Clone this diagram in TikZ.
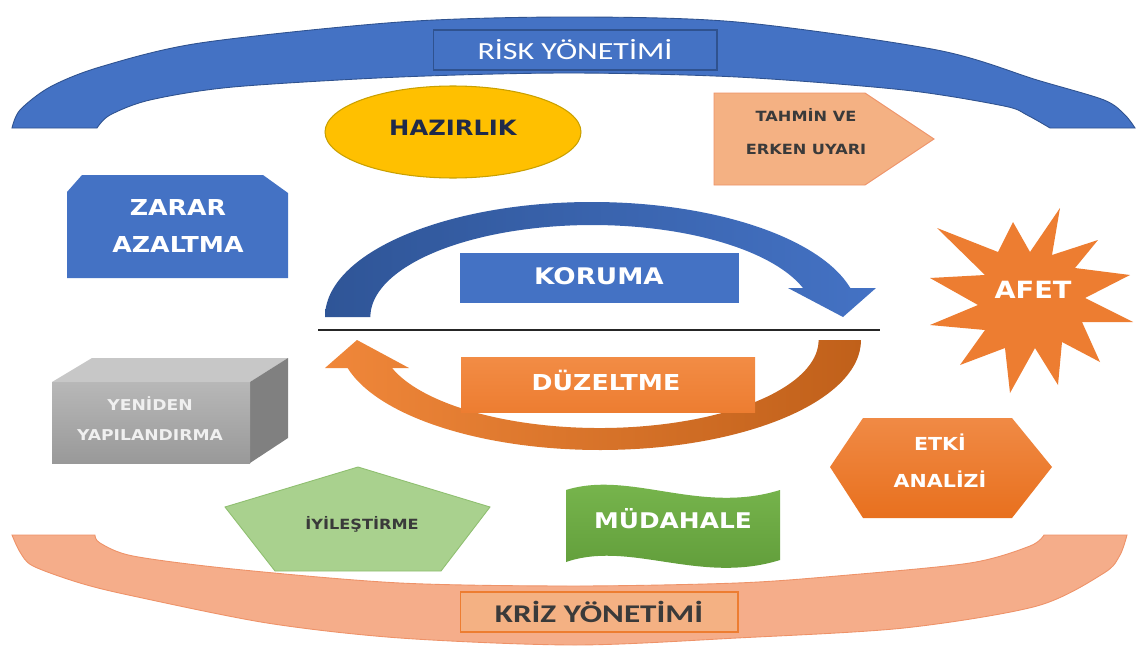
\documentclass[tikz,border=0pt]{standalone}
\usepackage{fontspec}
\newfontfamily\vfont[FakeStretch=1.15]{DejaVu Sans}
\newfontfamily\cfont[FakeStretch=1.3]{Carlito}
\usetikzlibrary{shapes.geometric}
\definecolor{oblue}{HTML}{4472C4}
\definecolor{dblue}{HTML}{2F5597}
\definecolor{borderblue}{HTML}{2F528F}
\definecolor{oorange}{HTML}{ED7D31}
\definecolor{lorange}{HTML}{F4B183}
\definecolor{band}{HTML}{F5AD8A}
\definecolor{bandedge}{HTML}{EE9268}
\definecolor{gold}{HTML}{FFC000}
\definecolor{golddark}{HTML}{C9A000}
\definecolor{lgreen}{HTML}{A9D18E}
\definecolor{lgreenedge}{HTML}{8FBF70}
\definecolor{green}{HTML}{70AD47}
\definecolor{navy}{HTML}{1F2A4A}
\definecolor{darktext}{HTML}{3A3A3A}
\definecolor{arcL}{HTML}{F0873A}
\definecolor{arcR}{HTML}{C0601A}
\definecolor{duzT}{HTML}{F28C45}
\definecolor{hexT}{HTML}{F08A45}
\definecolor{hexB}{HTML}{E8701E}
\definecolor{mudT}{HTML}{7AB84F}
\definecolor{mudB}{HTML}{5E9A38}
\tikzset{
  lbl/.style={align=center, inner sep=0pt, text=white},
  boxnode/.style={rectangle, inner sep=0pt},
}
\begin{document}
\begin{tikzpicture}[x=0.02cm,y=-0.02cm]
\useasboundingbox (0,0) rectangle (1137,646);
\fill[white] (0,0) rectangle (1137,646);

% ---- top band (risk management)
\path[fill=oblue, draw=borderblue, line width=0.5pt]
  plot[smooth] coordinates {(12,128) (20,110) (50,87) (100,67) (200,43) (400,22) (568,17) (737,22) (937,50) (1037,80) (1104,100) (1125,115) (1135,128)}
  -- plot[smooth] coordinates {(1050,128) (1027,115) (1004,106) (904,90) (737,77) (568,73) (400,77) (233,87) (150,100) (110,115) (97,128)}
  -- cycle;
\node[boxnode, fill=oblue, draw=borderblue, line width=0.6pt, minimum width=5.68cm, minimum height=0.8cm] (riskbox) at (575,50) {};
\node[lbl, font=\cfont\fontsize{14}{16}\selectfont] (risk) at (575,50) {RİSK YÖNETİMİ};

% ---- bottom band (crisis management)
\path[fill=band, draw=bandedge, line width=0.5pt]
  plot[smooth] coordinates {(12,535) (20,552) (33,566) (80,583) (133,596) (267,623) (400,638) (575,645) (737,638) (904,628) (1037,606) (1104,573) (1120,555) (1127,535)}
  -- plot[smooth] coordinates {(1044,535) (1030,546) (970,563) (837,576) (737,583) (575,586) (400,583) (233,569) (133,556) (100,543) (95,535)}
  -- cycle;
\node[boxnode, fill=lorange, draw=oorange, line width=0.6pt, minimum width=5.56cm, minimum height=0.8cm] (krizbox) at (599,612) {};
\node[lbl, text=darktext, font=\cfont\bfseries\fontsize{14.5}{16}\selectfont] (kriz) at (599,612) {KRİZ YÖNETİMİ};

% ---- HAZIRLIK
\node[ellipse, fill=gold, draw=golddark, line width=0.6pt, minimum width=5.12cm, minimum height=1.84cm, inner sep=0pt] (hazirlikbg) at (453,132) {};
\node[lbl, text=navy, font=\vfont\bfseries\fontsize{12}{14}\selectfont] (hazirlik) at (453,128) {HAZIRLIK};

% ---- TAHMIN VE ERKEN UYARI
\path[fill=lorange, draw=bandedge, line width=0.5pt] (714,93) -- (865,93) -- (934,139) -- (865,185) -- (714,185) -- cycle;
\node[lbl, text=darktext, font=\vfont\bfseries\fontsize{8}{18.8}\selectfont] (tahmin) at (806,132) {TAHMİN VE\\ERKEN UYARI};

% ---- ZARAR AZALTMA
\path[fill=oblue] (67,192) -- (82,175) -- (263,175) -- (288,193) -- (288,278) -- (67,278) -- cycle;
\node[lbl, font=\vfont\bfseries\fontsize{12.5}{21.6}\selectfont] (zarar) at (178,226) {ZARAR\\AZALTMA};

% ---- YENIDEN YAPILANDIRMA (cube)
\path[fill=black!22] (52,382) -- (92,358) -- (288,358) -- (250,382) -- cycle;
\path[fill=black!50] (250,382) -- (288,358) -- (288,438) -- (250,463) -- cycle;
\shade[top color=black!28, bottom color=black!40] (52,382) rectangle (250,463);
\node[lbl, text=black!6, font=\vfont\bfseries\fontsize{8.5}{17}\selectfont] (yeniden) at (150,419) {YENİDEN\\YAPILANDIRMA};

% ---- central cycle
\shade[left color=dblue, right color=oblue]
  (325,317) arc[start angle=180, end angle=345.4, x radius=267, y radius=115]
  -- (876,288) -- (843,317) -- (788,288) -- (803,288)
  arc[start angle=341.6, end angle=180, x radius=222, y radius=92] -- cycle;
\shade[left color=arcL, right color=arcR]
  (861,340) arc[start angle=0, end angle=165.25, x radius=261, y radius=110]
  -- (325,368) -- (357,340) -- (409,368) -- (392,368)
  arc[start angle=161.45, end angle=0, x radius=219, y radius=88] -- cycle;
\coordinate (lineL) at (318,330);
\coordinate (lineR) at (880,330);
\draw[line width=1.4pt, black!85] (lineL) -- (lineR);

\node[boxnode, fill=oblue, minimum width=5.58cm, minimum height=1.0cm] (korumabox) at (599.5,278) {};
\node[lbl, font=\vfont\bfseries\fontsize{13}{15}\selectfont] (koruma) at (599,276) {KORUMA};
\shade[top color=duzT, bottom color=oorange] (461,357) rectangle (755,412);
\node[lbl, font=\vfont\bfseries\fontsize{12.5}{15}\selectfont] (duzeltme) at (606,380) {DÜZELTME};

% ---- AFET (explosion)
\path[fill=oorange] (1060,208) -- (1052,255) -- (1098,240) -- (1075,268) -- (1130,275) -- (1085,298)
  -- (1133,322) -- (1082,322) -- (1100,362) -- (1062,342) -- (1058,385) -- (1035,348)
  -- (1010,393) -- (1005,348) -- (960,365) -- (985,330) -- (930,325) -- (978,305)
  -- (930,278) -- (985,275) -- (937,228) -- (998,252) -- (1013,222) -- (1030,252) -- cycle;
\node[lbl, font=\vfont\bfseries\fontsize{13.5}{15}\selectfont] (afet) at (1033,290) {AFET};

% ---- ETKI ANALIZI (hexagon)
\shade[top color=hexT, bottom color=hexB] (830,467) -- (863,418) -- (1012,418) -- (1052,467) -- (1012,518) -- (863,518) -- cycle;
\node[lbl, font=\vfont\bfseries\fontsize{10.2}{21}\selectfont] (etki) at (940,461) {ETKİ\\ANALİZİ};

% ---- IYILESTIRME (pentagon)
\path[fill=lgreen, draw=lgreenedge, line width=0.5pt] (358,467) -- (490,507) -- (441,571) -- (275,571) -- (225,507) -- cycle;
\node[lbl, text=darktext, font=\vfont\bfseries\fontsize{8}{10}\selectfont] (iyilestirme) at (362,524) {İYİLEŞTİRME};

% ---- MUDAHALE (wave)
\shade[top color=mudT, bottom color=mudB]
  (566,490) .. controls (630,470) and (700,515) .. (780,490)
  -- (780,560) .. controls (700,585) and (630,540) .. (566,562) -- cycle;
\node[lbl, font=\vfont\bfseries\fontsize{12.3}{15}\selectfont] (mudahale) at (673,519) {MÜDAHALE};
\end{tikzpicture}
\end{document}
